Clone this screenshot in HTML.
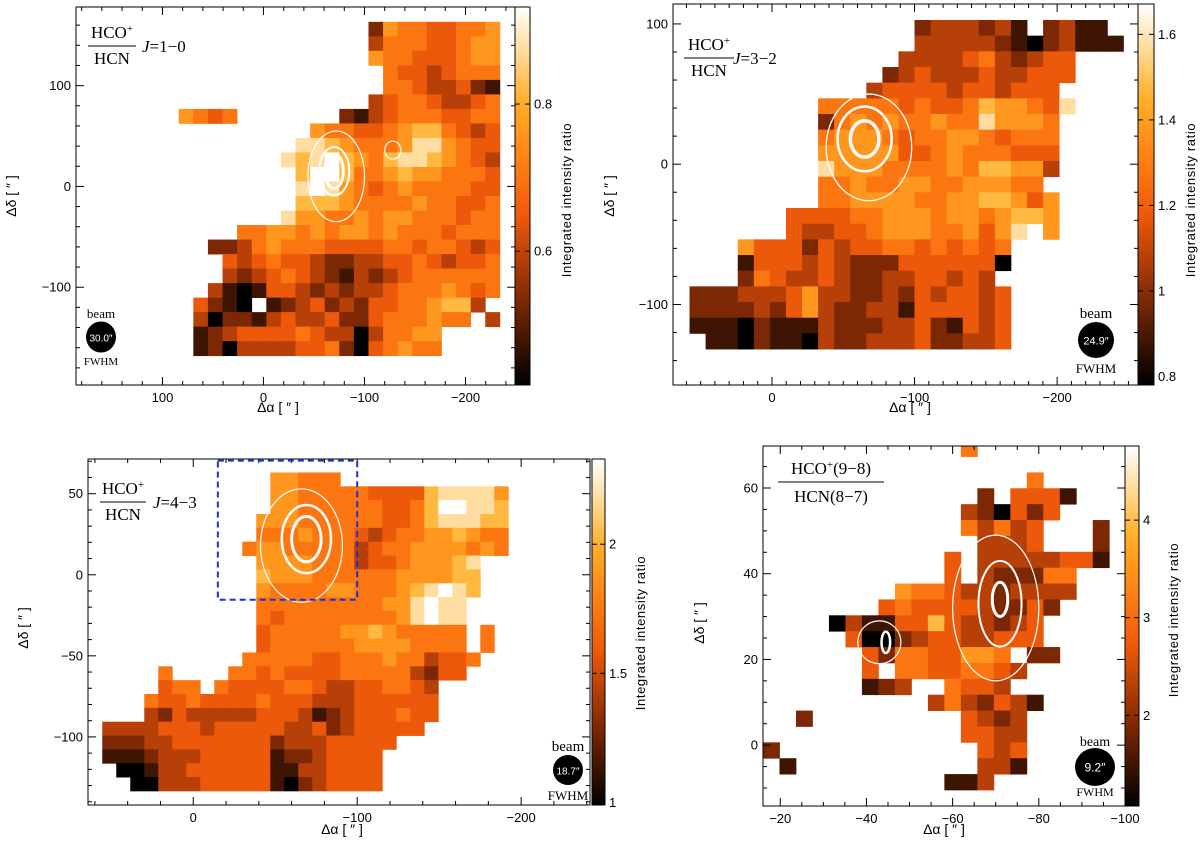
<!DOCTYPE html>
<html><head><meta charset="utf-8"><style>
html,body{margin:0;padding:0;background:#fff;}
svg text{font-family:"Liberation Sans",sans-serif;}
.serif{font-family:"Liberation Serif",serif !important;}
</style></head><body>
<svg id="fig" xmlns="http://www.w3.org/2000/svg" width="1200" height="840" viewBox="0 0 1200 840">
<defs>
<linearGradient id="cmap" x1="0" y1="1" x2="0" y2="0">
<stop offset="0" stop-color="rgb(0,0,0)"/>
<stop offset="0.25" stop-color="rgb(140,45,5)"/>
<stop offset="0.45" stop-color="rgb(240,90,10)"/>
<stop offset="0.6" stop-color="rgb(255,130,20)"/>
<stop offset="0.75" stop-color="rgb(255,175,40)"/>
<stop offset="0.9" stop-color="rgb(255,225,170)"/>
<stop offset="1" stop-color="rgb(255,255,255)"/>
</linearGradient>
</defs>
</svg>
<script>
// ---- data: intensity-ratio level grids (0 = colorbar min, 9 = colorbar max, '.' = no data)
const p1Levels=[
".............265544556",
".............355544566",
".............655444566",
"..............54434555",
"..............55433421",
".............345543345",
"6545.......21345554455",
".........6554456775434",
"........88765556886544",
".......878976578876543",
"........79975567665554",
"........89865456555544",
"........77765555655445",
".......866556566555455",
"....556656566565554555",
"..22356555444455455434",
"...4345443223344543445",
"...3234543213234555555",
"..31014432323345556545",
".4210.123423244556773.",
".3022134334224555655.3",
".12344445433035566....",
".12033334452045655...."];
const p2Levels=[
"..............2333231.2311.",
"..............3333321023111",
".............33334532344...",
"............234333433444...",
"...........344443443444....",
"........5555545445766548...",
"........256565565586665....",
"........566654556654555....",
"........666664456555444....",
"........866655556577663....",
"........55655665566655.....",
"........556666556677646....",
"......44445566656656776....",
"......433445666556468.6....",
"...64442434455454545.......",
"...14443432224444440.......",
"...2543343223344343........",
"22233346332232434434.......",
"22223246322331444434.......",
"11102111322233421434.......",
".1102110322333422334......."];
const p3Levels=[
"............66555.............",
"............66555554444788886.",
"............66555555445799887.",
"...........666555555445788877.",
"...........555655543455667655.",
"..........5665555534556666565.",
"...........6666555344566678...",
"...........7666555555666677...",
"...........6555566555678987...",
"...........555555555668988....",
"...........545555555568988....",
"...........455555667655555.5..",
"...........455555566665555.5..",
"..........55555445556553445...",
"....5....55454444555553244....",
"....455.5444455433445543......",
"...544544445444333444444......",
"...324333334443123444544......",
"33334443444443342344444.......",
"222334444444233344444.........",
"11123334444412234444..........",
".0013344444411334444..........",
"..003334444410234444.........."];
const p4Levels=[
"............5........",
".....................",
"................5....",
".............2.4441..",
"............320424...",
"............53534...2",
"............93334...2",
"...........4.33333441",
".........9.4.322255..",
"........65543323333..",
".......45444432242...",
"....0311447433234....",
".....400234433444....",
"......425544665.22...",
"......4.55445543.....",
"......123..5443......",
"..........3532431....",
"..2.........4323.....",
"............4433.....",
"2............434.....",
".1...........331.....",
"...........113......."];
// colorbar ranges and tick labels
const p1Range=[0.418,0.932]; const p1CbTicks=[0.6,0.8]; const p1CbLabels=["0.6","0.8"];
const p2Range=[0.78,1.671]; const p2CbTicks=[0.8,1,1.2,1.4,1.6]; const p2CbLabels=["0.8","1","1.2","1.4","1.6"];
const p3Range=[0.99,2.33]; const p3CbTicks=[1,1.5,2]; const p3CbLabels=["1","1.5","2"];
const p4Range=[1.07,4.76]; const p4CbTicks=[2,3,4]; const p4CbLabels=["2","3","4"];
// axis tick values
const p1XTicks=[100,0,-100,-200]; const p1YTicks=[100,0,-100];
const p2XTicks=[0,-100,-200]; const p2YTicks=[100,0,-100];
const p3XTicks=[0,-100,-200]; const p3YTicks=[50,0,-50,-100];
const p4XTicks=[-20,-40,-60,-80,-100]; const p4YTicks=[0,20,40,60];
// contour rings [cx, cy, rx, ry, width]
const p1Contours=[[-70,15,9,17,3],[-70,15,15,24,2],[-72,10,28,45,1.2],[-128,36,8,9,1.2]];
const p2Contours=[[-65,18,10,13,3.5],[-65,18,19,23,2.5],[-68,12,30,38,1.3]];
const p3Contours=[[-69,22,9,14,3],[-69,22,15,21,2.5],[-66,18,25,35,1.2]];
const p4Contours=[[-71,34,1.8,4,3],[-71,33,5,10,2],[-44.5,24,1,2.5,2.5],[-70,32,10,17,1.2],[-43,24,5,5,1.2]];

const NS="http://www.w3.org/2000/svg";
const svg=document.getElementById('fig');
function mk(tag,attrs,parent){const e=document.createElementNS(NS,tag);for(const k in attrs)e.setAttribute(k,attrs[k]);(parent||svg).appendChild(e);return e;}
const stops=[[0,[0,0,0]],[0.25,[140,45,5]],[0.45,[240,90,10]],[0.6,[255,130,20]],[0.75,[255,175,40]],[0.9,[255,225,170]],[1,[255,255,255]]];
function cmap(t){t=Math.max(0,Math.min(1,t));for(let i=1;i<stops.length;i++){if(t<=stops[i][0]){const a=stops[i-1],b=stops[i];const f=(t-a[0])/(b[0]-a[0]);const c=a[1].map((v,j)=>Math.round(v+(b[1][j]-v)*f));return 'rgb('+c.join(',')+')';}}return 'rgb(255,255,255)';}
function fmt(v){return (v<0?'\u2212':'')+Math.abs(v);}

function panel(cfg){
  const sx=v=>cfg.px0+(v-cfg.xl)/(cfg.xr-cfg.xl)*(cfg.px1-cfg.px0);
  const sy=v=>cfg.py0+(cfg.yt-v)/(cfg.yt-cfg.yb)*(cfg.py1-cfg.py0);
  const g=mk('g',{});
  
  
  const clipId=cfg.name+'-clip';
  const cp=mk('clipPath',{id:clipId},g);
  mk('rect',{x:cfg.px0,y:cfg.py0,width:cfg.px1-cfg.px0,height:cfg.py1-cfg.py0},cp);
  const hm=mk('g',{'clip-path':'url(#'+clipId+')'},g);
  
  
  const [vmin,vmax]=cfg.range;
  cfg.levels.forEach((row,r)=>{
    for(let c=0;c<row.length;c++){
      const ch=row[c]; if(ch==='.')continue;
      const val=vmin+(+ch)/9*(vmax-vmin);
      const xa=sx(cfg.x0-c*cfg.dx), xb=sx(cfg.x0-(c+1)*cfg.dx);
      const ya=sy(cfg.y0-r*cfg.dy), yb=sy(cfg.y0-(r+1)*cfg.dy);
      const rc=mk('rect',{x:Math.min(xa,xb).toFixed(2),y:Math.min(ya,yb).toFixed(2),width:(Math.abs(xb-xa)+0.4).toFixed(2),height:(Math.abs(yb-ya)+0.4).toFixed(2),fill:cmap((val-vmin)/(vmax-vmin))},hm);
      
      
    }
  });
  const cg=mk('g',{'clip-path':'url(#'+clipId+')',fill:'none',stroke:'#fff'},g);
  
  
  cfg.contours.forEach(k=>{
    const e=mk('ellipse',{cx:sx(k[0]),cy:sy(k[1]),rx:Math.abs(sx(k[0]+k[2])-sx(k[0])),ry:Math.abs(sy(k[1]+k[3])-sy(k[1])),'stroke-width':k[4]},cg);
    
    
  });
  // frame
  const fr=mk('rect',{x:cfg.px0,y:cfg.py0,width:cfg.px1-cfg.px0,height:cfg.py1-cfg.py0,fill:'none',stroke:'#000','stroke-width':1},g);
  
  
  // ticks
  const tg=mk('g',{stroke:'#000','stroke-width':1},g);
  
  
  const xs=Math.min(cfg.xl,cfg.xr),xe=Math.max(cfg.xl,cfg.xr);
  for(let v=Math.ceil(xs/cfg.xminor)*cfg.xminor;v<=xe;v+=cfg.xminor){
    const maj=Math.abs(v%cfg.xmajor)<1e-6;const L=maj?8:4;const X=sx(v);
    mk('line',{x1:X,y1:cfg.py1,x2:X,y2:cfg.py1-L},tg);mk('line',{x1:X,y1:cfg.py0,x2:X,y2:cfg.py0+L},tg);
  }
  for(let v=Math.ceil(cfg.yb/cfg.yminor)*cfg.yminor;v<=cfg.yt;v+=cfg.yminor){
    const maj=Math.abs(v%cfg.ymajor)<1e-6;const L=maj?8:4;const Y=sy(v);
    mk('line',{x1:cfg.px0,y1:Y,x2:cfg.px0+L,y2:Y},tg);mk('line',{x1:cfg.px1,y1:Y,x2:cfg.px1-L,y2:Y},tg);
  }
  cfg.xticks.forEach(v=>{const t=mk('text',{x:sx(v),y:cfg.py1+17,'font-size':13,'text-anchor':'middle'},g);t.textContent=fmt(v);
    
    });
  cfg.yticks.forEach(v=>{const t=mk('text',{x:cfg.px0-5,y:sy(v)+4.5,'font-size':13,'text-anchor':'end'},g);t.textContent=fmt(v);
    
    });
  const xl=mk('text',{x:cfg.xlab[0],y:cfg.xlab[1],'font-size':14,'text-anchor':'middle'},g);xl.textContent='\u0394\u03b1 [ \u2033 ]';
  
  
  const yl=mk('text',{x:cfg.ylab[0],y:cfg.ylab[1],'font-size':14,'text-anchor':'middle',transform:'rotate(-90 '+cfg.ylab[0]+' '+cfg.ylab[1]+')'},g);yl.textContent='\u0394\u03b4 [ \u2033 ]';
  
  
  // colorbar
  const cb=mk('rect',{x:cfg.cb[0],y:cfg.py0,width:cfg.cb[1]-cfg.cb[0],height:cfg.py1-cfg.py0,fill:'url(#cmap)',stroke:'#000','stroke-width':1},g);
  
  
  const cy=v=>cfg.py1-(v-vmin)/(vmax-vmin)*(cfg.py1-cfg.py0);
  cfg.cbTicks.forEach((v,i)=>{const Y=cy(v);
    mk('line',{x1:cfg.cb[0],y1:Y,x2:cfg.cb[0]+5,y2:Y,stroke:'#000'},g);mk('line',{x1:cfg.cb[1],y1:Y,x2:cfg.cb[1]-5,y2:Y,stroke:'#000'},g);
    const t=mk('text',{x:cfg.cb[1]+4,y:Y+4.5,'font-size':13},g);t.textContent=cfg.cbLabels[i];
    
    });
  const cl=mk('text',{x:cfg.cblab[0],y:cfg.cblab[1],'font-size':13,'text-anchor':'middle',transform:'rotate(-90 '+cfg.cblab[0]+' '+cfg.cblab[1]+')','letter-spacing':'0.6'},g);cl.textContent='Integrated intensity ratio';
  
  
  // beam
  const b=cfg.beam;
  const bc=mk('ellipse',{cx:b[0],cy:b[1],rx:b[2],ry:b[3],fill:'#000'},g);
  
  
  const bt=mk('text',{x:b[0],y:b[1]+4.5,'font-size':b[4],'text-anchor':'middle',fill:'#fff'},g);bt.textContent=b[5];
  
  
  const b1=mk('text',{x:b[0],y:b[6],'font-size':b[8],'text-anchor':'middle',class:'serif'},g);b1.textContent='beam';
  
  
  const b2=mk('text',{x:b[0],y:b[7],'font-size':b[8]-2,'text-anchor':'middle',class:'serif'},g);b2.textContent='FWHM';
  
  
  return {g,sx,sy};
}
function fracTitle(x,yNum,yLine,yDen,w,num,den,extra,ex,fs){
  const g=mk('g',{class:'serif'});
  
  
  const n=mk('text',{x:x+w/2,y:yNum,'font-size':fs,'text-anchor':'middle',class:'serif'},g);n.innerHTML=num;
  mk('line',{x1:x,y1:yLine,x2:x+w,y2:yLine,stroke:'#000','stroke-width':1},g);
  const d=mk('text',{x:x+w/2,y:yDen,'font-size':fs,'text-anchor':'middle',class:'serif'},g);d.textContent=den;
  if(extra){const e=mk('text',{x:ex,y:yLine+6,'font-size':fs,class:'serif'},g);e.innerHTML=extra;}
}

panel({name:'panel-j1-0',levels:p1Levels,range:p1Range,contours:p1Contours,x0:83.9,dx:14.45,y0:163.3,dy:14.4,
  px0:76,px1:515,py0:7,py1:385,xl:185.6,xr:-249,yt:178,yb:-197,xminor:20,xmajor:100,yminor:20,ymajor:100,
  xticks:p1XTicks,yticks:p1YTicks,xlab:[278,412],ylab:[16,196],cb:[515,530],cbTicks:p1CbTicks,cbLabels:p1CbLabels,cblab:[571,200],
  beam:[101,337,15,15.5,10,'30.0\u2033',318,365,13]});
fracTitle(88,38,46,64,48,'HCO<tspan baseline-shift="super" font-size="11">+</tspan>','HCN','<tspan font-style="italic">J</tspan>=1\u22120',142,17);

panel({name:'panel-j3-2',levels:p2Levels,range:p2Range,contours:p2Contours,x0:57.8,dx:11.27,y0:102.8,dy:11.17,
  px0:673,px1:1138,py0:4,py1:385,xl:69.4,xr:-256.7,yt:114.2,yb:-157.4,xminor:10,xmajor:100,yminor:20,ymajor:100,
  xticks:p2XTicks,yticks:p2YTicks,xlab:[910,412],ylab:[614,196],cb:[1138,1154],cbTicks:p2CbTicks,cbLabels:p2CbLabels,cblab:[1195,200],
  beam:[1096,340,18,18,11,'24.9\u2033',318,373,15]});
fracTitle(684,50,58,76,50,'HCO<tspan baseline-shift="super" font-size="11">+</tspan>','HCN','<tspan font-style="italic">J</tspan>=3\u22122',733,17);

const p3=panel({name:'panel-j4-3',levels:p3Levels,range:p3Range,contours:p3Contours,x0:55.5,dx:8.54,y0:63.1,dy:8.54,
  px0:88,px1:590,py0:459,py1:805,xl:64.2,xr:-242,yt:71.4,yb:-142,xminor:20,xmajor:100,yminor:10,ymajor:50,
  xticks:p3XTicks,yticks:p3YTicks,xlab:[342,834],ylab:[28,628],cb:[592,605],cbTicks:p3CbTicks,cbLabels:p3CbLabels,cblab:[645,633],
  beam:[568,770,15,15,10,'18.7\u2033',751,800,15]});
fracTitle(100,494,502,520,46,'HCO<tspan baseline-shift="super" font-size="11">+</tspan>','HCN','<tspan font-style="italic">J</tspan>=4\u22123',153,17);
const box=mk('rect',{x:p3.sx(-15),y:p3.sy(70.4),width:p3.sx(-100)-p3.sx(-15),height:p3.sy(-15.4)-p3.sy(70.4),fill:'none',stroke:'#1f2fd0','stroke-width':2,'stroke-dasharray':'6,4'});



panel({name:'panel-9-8',levels:p4Levels,range:p4Range,contours:p4Contours,x0:-16,dx:3.826,y0:71.05,dy:3.705,
  px0:763,px1:1125,py0:446,py1:806,xl:-16,xr:-100,yt:69.8,yb:-14.2,xminor:5,xmajor:20,yminor:5,ymajor:20,
  xticks:p4XTicks,yticks:p4YTicks,xlab:[944,834],ylab:[704,623],cb:[1125,1139],cbTicks:p4CbTicks,cbLabels:p4CbLabels,cblab:[1178,620],
  beam:[1095,767,20,19,12,'9.2\u2033',746,796,14]});
fracTitle(778,474,482,502,106,'HCO<tspan baseline-shift="super" font-size="11">+</tspan>(9\u22128)','HCN(8\u22127)','',0,17);
</script>
</body></html>
